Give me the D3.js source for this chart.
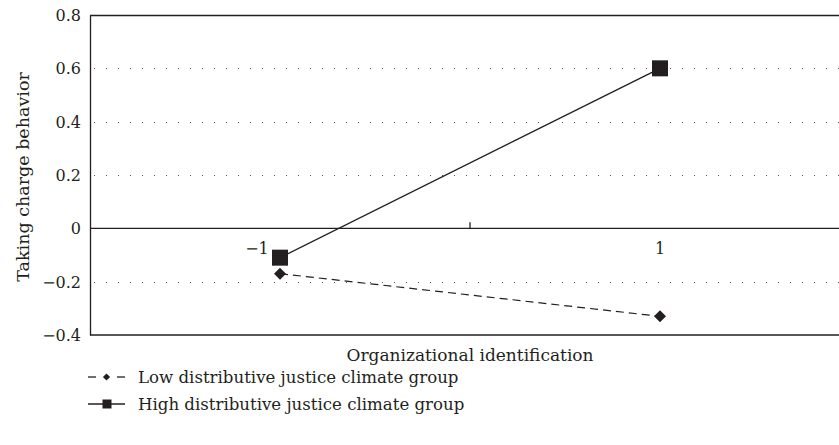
<!DOCTYPE html>
<html>
<head>
<meta charset="utf-8">
<script src="https://cdn.jsdelivr.net/npm/d3@7"></script>
<style>
  body { margin: 0; background: #fff; }
  svg text { font-family: "DejaVu Serif", serif; fill: #231f20; }
</style>
</head>
<body>
<div id="chart"></div>
<script>
// data
var categories = ["-1", "1"];
var categoryLabels = ["\u22121", "1"];
var lowValues = [-0.17, -0.33];
var highValues = [-0.11, 0.60];
var yTicks = [0.8, 0.6, 0.4, 0.2, 0, -0.2, -0.4];
var seriesNames = ["Low distributive justice climate group", "High distributive justice climate group"];

var width = 839, height = 445;
var margin = { top: 15, right: -11, bottom: 110, left: 90 };
var innerW = width - margin.left - margin.right;
var innerH = height - margin.top - margin.bottom;
var ink = "#231f20";

var svg = d3.select("#chart").append("svg")
    .attr("width", width)
    .attr("height", height);

var g = svg.append("g")
    .attr("transform", "translate(" + margin.left + "," + margin.top + ")");

var x = d3.scaleBand()
    .domain(categories)
    .range([0, innerW]);

var y = d3.scaleLinear()
    .domain([-0.4, 0.8])
    .range([innerH, 0]);

var fmt = function(d){
    if (d === 0) return "0";
    return d3.format(".1f")(d).replace("-", "\u2212");
};

// dotted gridlines
g.append("g").selectAll("line")
    .data(yTicks.filter(function(d){ return d !== 0 && d !== 0.8 && d !== -0.4; }))
    .enter().append("line")
    .attr("x1", 4).attr("x2", innerW)
    .attr("y1", function(d){ return Math.round(y(d)) + 0.5; })
    .attr("y2", function(d){ return Math.round(y(d)) + 0.5; })
    .attr("stroke", "#555")
    .attr("stroke-width", 1)
    .attr("stroke-dasharray", "1,11");

// frame lines (top, bottom)
g.append("line").attr("x1", 0).attr("x2", innerW).attr("y1", 0.5).attr("y2", 0.5)
    .attr("stroke", ink).attr("stroke-width", 1.3);
g.append("line").attr("x1", 0).attr("x2", innerW).attr("y1", innerH).attr("y2", innerH)
    .attr("stroke", ink).attr("stroke-width", 1.3);

// y axis
var yAxis = g.append("g")
    .call(d3.axisLeft(y).tickValues(yTicks).tickFormat(fmt).tickSize(0).tickPadding(9));
yAxis.attr("font-family", null).attr("font-size", null);
yAxis.select(".domain").attr("stroke", ink).attr("stroke-width", 1.3);
yAxis.selectAll("text")
    .style("font-size", "16px")
    .attr("dy", "0.35em");

// x axis along zero
var xAxisG = g.append("g")
    .attr("transform", "translate(0," + y(0) + ")");
xAxisG.append("line")
    .attr("x1", 0).attr("x2", innerW)
    .attr("stroke", ink).attr("stroke-width", 1.3);
xAxisG.selectAll(".tick")
    .data(categories.slice(1))
    .enter().append("line")
    .attr("x1", function(d){ return x(d); })
    .attr("x2", function(d){ return x(d); })
    .attr("y1", -6).attr("y2", 0)
    .attr("stroke", ink).attr("stroke-width", 1.3);
xAxisG.selectAll("text")
    .data(categories)
    .enter().append("text")
    .attr("x", function(d){ return x(d) + x.bandwidth() / 2; })
    .attr("dx", function(d, i){ return i === 0 ? -23 : 0; })
    .attr("y", 26)
    .attr("text-anchor", "middle")
    .style("font-size", "16px")
    .text(function(d, i){ return categoryLabels[i]; });

// axis titles
svg.append("text")
    .attr("transform", "translate(29,177) rotate(-90)")
    .attr("text-anchor", "middle")
    .style("font-size", "17.5px")
    .text("Taking charge behavior");

svg.append("text")
    .attr("x", margin.left + x("1"))
    .attr("y", 361)
    .attr("text-anchor", "middle")
    .style("font-size", "17px")
    .text("Organizational identification");

// lines
var cx = function(d, i){ return x(categories[i]) + x.bandwidth() / 2; };
var line = d3.line()
    .x(function(d, i){ return cx(d, i); })
    .y(function(d){ return y(d); });

g.append("path")
    .datum(lowValues)
    .attr("d", line)
    .attr("fill", "none")
    .attr("stroke", ink)
    .attr("stroke-width", 1.2)
    .attr("stroke-dasharray", "8,5");

g.append("path")
    .datum(highValues)
    .attr("d", line)
    .attr("fill", "none")
    .attr("stroke", ink)
    .attr("stroke-width", 1.3);

var diamond = d3.symbol().type(d3.symbolSquare).size(72);
g.selectAll(".low")
    .data(lowValues)
    .enter().append("path")
    .attr("class", "low")
    .attr("d", diamond)
    .attr("transform", function(d, i){ return "translate(" + cx(d, i) + "," + y(d) + ") rotate(45)"; })
    .attr("fill", ink);

g.selectAll(".high")
    .data(highValues)
    .enter().append("rect")
    .attr("class", "high")
    .attr("x", function(d, i){ return cx(d, i) - 8; })
    .attr("y", function(d){ return y(d) - 8; })
    .attr("width", 16).attr("height", 16)
    .attr("fill", ink);

// legend
var legend = svg.append("g").attr("transform", "translate(88,377)");
var rows = legend.selectAll("g")
    .data(seriesNames)
    .enter().append("g")
    .attr("transform", function(d, i){ return "translate(0," + (i * 27) + ")"; });

var lowRow = rows.filter(function(d, i){ return i === 0; });
lowRow.append("line").attr("x1", 0).attr("x2", 8).attr("stroke", ink).attr("stroke-width", 1.3);
lowRow.append("line").attr("x1", 29).attr("x2", 37).attr("stroke", ink).attr("stroke-width", 1.3);
lowRow.append("path")
    .attr("d", d3.symbol().type(d3.symbolSquare).size(26))
    .attr("transform", "translate(18.5,0) rotate(45)")
    .attr("fill", ink);

var highRow = rows.filter(function(d, i){ return i === 1; });
highRow.append("line").attr("x1", 0).attr("x2", 37).attr("stroke", ink).attr("stroke-width", 1.6);
highRow.append("rect")
    .attr("x", 14.5).attr("y", -4.5).attr("width", 9).attr("height", 9)
    .attr("fill", ink);

rows.append("text")
    .attr("x", 50)
    .attr("y", 6)
    .style("font-size", "16.6px")
    .text(function(d){ return d; });
</script>
</body>
</html>
